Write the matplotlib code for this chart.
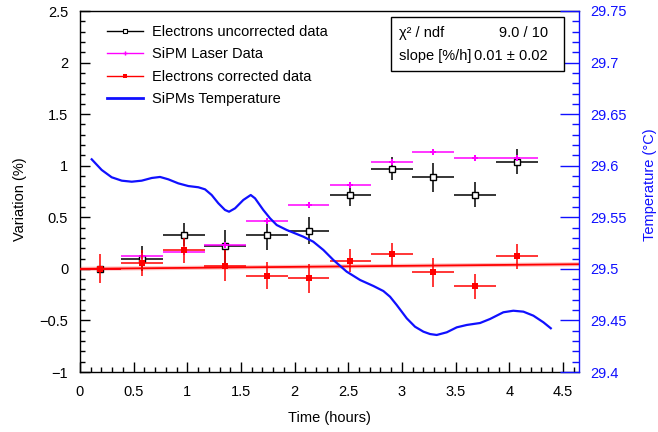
import matplotlib
matplotlib.use('Agg')
import matplotlib.pyplot as plt
from matplotlib.lines import Line2D
from matplotlib.patches import Rectangle
from matplotlib.ticker import MultipleLocator, FixedLocator

plt.rcParams['font.family'] = ['Liberation Sans', 'DejaVu Sans']

# time bins (hours), same for all three data sets
time_h = [0.19, 0.58, 0.97, 1.35, 1.74, 2.13, 2.52, 2.91, 3.29, 3.68, 4.07]
time_err = [0.194] * 11

# electrons uncorrected
unc_y = [0.0, 0.10, 0.33, 0.22, 0.33, 0.37, 0.72, 0.97, 0.89, 0.72, 1.04]
unc_err = [0.0, 0.12, 0.11, 0.16, 0.15, 0.13, 0.11, 0.11, 0.14, 0.12, 0.12]

# SiPM laser data
laser_y = [0.0, 0.12, 0.165, 0.23, 0.46, 0.62, 0.81, 1.04, 1.13, 1.07, 1.07]
laser_err = [0.0, 0.02, 0.02, 0.02, 0.02, 0.02, 0.02, 0.02, 0.02, 0.02, 0.02]

# electrons corrected
cor_y = [0.0, 0.06, 0.18, 0.03, -0.065, -0.09, 0.08, 0.14, -0.035, -0.17, 0.12]
cor_err = [0.14, 0.125, 0.12, 0.15, 0.13, 0.14, 0.11, 0.11, 0.14, 0.12, 0.12]

# linear fit of corrected data
fit_x = [0.0, 4.65]
fit_y = [0.0, 0.045]

# SiPM temperature (right axis)
temp_t = [0.109, 0.202, 0.295, 0.389, 0.482, 0.575, 0.668, 0.746, 0.823, 0.916,
          1.009, 1.103, 1.165, 1.227, 1.289, 1.351, 1.389, 1.445, 1.522, 1.591,
          1.631, 1.708, 1.771, 1.833, 1.926, 2.081, 2.174, 2.268, 2.361, 2.485,
          2.610, 2.734, 2.827, 2.889, 2.951, 3.045, 3.122, 3.200, 3.262, 3.324,
          3.418, 3.511, 3.604, 3.728, 3.821, 3.945, 4.038, 4.132, 4.225, 4.318, 4.387]
temp_c = [29.6062, 29.5959, 29.5888, 29.5855, 29.5845, 29.5855, 29.5881, 29.5891,
          29.5868, 29.5829, 29.5803, 29.5791, 29.5771, 29.5716, 29.5636, 29.5571,
          29.5554, 29.5587, 29.5668, 29.5716, 29.5684, 29.5571, 29.5490, 29.5425,
          29.5377, 29.5312, 29.5263, 29.5183, 29.5086, 29.4973, 29.4892, 29.4834,
          29.4785, 29.4730, 29.4650, 29.4520, 29.4439, 29.4391, 29.4368, 29.4359,
          29.4385, 29.4433, 29.4456, 29.4475, 29.4514, 29.4579, 29.4594, 29.4585,
          29.4546, 29.4482, 29.4424]

x_ticks = [0, 0.5, 1, 1.5, 2, 2.5, 3, 3.5, 4, 4.5]
x_labels = ['0', '0.5', '1', '1.5', '2', '2.5', '3', '3.5', '4', '4.5']
y_ticks = [-1, -0.5, 0, 0.5, 1, 1.5, 2, 2.5]
y_labels = ['\u22121', '\u22120.5', '0', '0.5', '1', '1.5', '2', '2.5']
t_ticks = [29.4, 29.45, 29.5, 29.55, 29.6, 29.65, 29.7, 29.75]
t_labels = ['29.4', '29.45', '29.5', '29.55', '29.6', '29.65', '29.7', '29.75']

legend_labels = ['Electrons uncorrected data', 'SiPM Laser Data',
                 'Electrons corrected data', 'SiPMs Temperature']

FS = 10.5
BLUE = '#1010ff'
MAG = '#ff00ff'
RED = '#ff0000'

fig = plt.figure(figsize=(6.58, 4.32), dpi=100)
ax = fig.add_axes([80 / 658, 1 - 372 / 432, 499 / 658, 361 / 432])

ax.errorbar(time_h, unc_y, xerr=time_err, yerr=unc_err, fmt='s', color='black',
            mfc='white', mec='black', ms=4, mew=1.0, elinewidth=1.1, capsize=0, zorder=3)
ax.errorbar(time_h, laser_y, xerr=time_err, yerr=laser_err, fmt='P', color=MAG,
            ms=4, mew=0, elinewidth=1.1, capsize=0, zorder=4)
ax.errorbar(time_h, cor_y, xerr=time_err, yerr=cor_err, fmt='s', color=RED,
            ms=4, mew=0, elinewidth=1.1, capsize=0, zorder=5)
ax.plot(fit_x, fit_y, color=RED, lw=3.0, alpha=0.25, zorder=6)
ax.plot(fit_x, fit_y, color=RED, lw=1.3, zorder=6)

ax.set_xlim(0, 4.65)
ax.set_ylim(-1, 2.5)
ax.xaxis.set_major_locator(FixedLocator(x_ticks))
ax.set_xticklabels(x_labels)
ax.yaxis.set_major_locator(FixedLocator(y_ticks))
ax.set_yticklabels(y_labels)
ax.xaxis.set_minor_locator(MultipleLocator(0.1))
ax.yaxis.set_minor_locator(MultipleLocator(0.1))
ax.tick_params(which='both', direction='in', top=False, right=False,
               labelsize=FS, width=1.0)
ax.tick_params(which='major', length=7)
ax.tick_params(which='minor', length=3.6)
ax.tick_params(axis='x', pad=9.5)
ax.tick_params(axis='y', pad=8.5)
ax.spines['right'].set_visible(False)
for s in ['left', 'top', 'bottom']:
    ax.spines[s].set_linewidth(1.0)

ax.set_xlabel('Time (hours)', fontsize=FS)
ax.xaxis.set_label_coords(0.5, -0.109)
ax.set_ylabel('Variation (%)', fontsize=FS)
ax.yaxis.set_label_coords(-0.106, 0.479)

# right axis with temperature
ax2 = ax.twinx()
ax2.plot(temp_t, temp_c, color=BLUE, lw=1.6, zorder=2)
ax2.set_ylim(29.4, 29.75)
ax2.yaxis.set_major_locator(FixedLocator(t_ticks))
ax2.set_yticklabels(t_labels)
ax2.yaxis.set_minor_locator(MultipleLocator(0.01))
ax2.tick_params(axis='y', which='both', direction='in', colors=BLUE,
                labelsize=FS, width=1.0, pad=8)
ax2.tick_params(axis='y', which='major', length=13.5)
ax2.tick_params(axis='y', which='minor', length=5)
for s in ['left', 'top', 'bottom']:
    ax2.spines[s].set_visible(False)
ax2.spines['right'].set_color(BLUE)
ax2.spines['right'].set_linewidth(1.0)
ax2.set_ylabel('Temperature (\u00b0C)', fontsize=FS, color=BLUE)
ax2.yaxis.set_label_coords(1.128, 0.52)

# legend
handles = [
    Line2D([], [], color='black', lw=1.0, marker='s', ms=3, mfc='white', mec='black', mew=0.8),
    Line2D([], [], color=MAG, lw=1.0, marker='P', ms=3, mew=0),
    Line2D([], [], color=RED, lw=1.0, marker='s', ms=3, mew=0),
    Line2D([], [], color=BLUE, lw=2.0),
]
ax2.legend(handles, legend_labels, loc='upper left',
           bbox_to_anchor=(107 / 658, 1 - 25 / 432), bbox_transform=fig.transFigure,
           frameon=False, borderpad=0, borderaxespad=0, fontsize=FS,
           handlelength=2.47, handletextpad=0.62, labelspacing=0.58)

# fit statistics box
ax2.add_patch(Rectangle((0.623, 0.834), 0.347, 0.149, transform=ax2.transAxes,
                        facecolor='white', edgecolor='black', lw=1.0, zorder=10))
ax2.text(0.639, 0.939, '\u03c7\u00b2 / ndf', transform=ax2.transAxes,
         ha='left', va='center', fontsize=FS, zorder=11)
ax2.text(0.938, 0.939, '9.0 / 10', transform=ax2.transAxes,
         ha='right', va='center', fontsize=FS, zorder=11)
ax2.text(0.639, 0.875, 'slope [%/h]', transform=ax2.transAxes,
         ha='left', va='center', fontsize=FS, zorder=11)
ax2.text(0.938, 0.875, '0.01 \u00b1 0.02', transform=ax2.transAxes,
         ha='right', va='center', fontsize=FS, zorder=11)

fig.savefig('out.png', dpi=100)
